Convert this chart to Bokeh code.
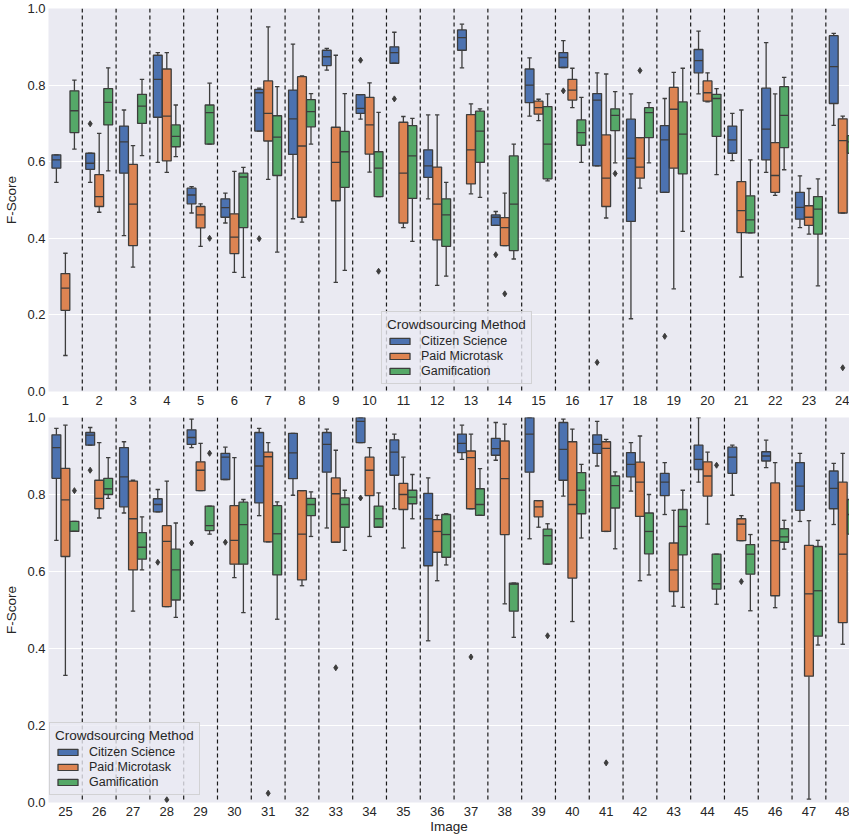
from bokeh.plotting import figure
from bokeh.layouts import column
from bokeh.models import (Range1d, FixedTicker, PrintfTickFormatter, Span,
                          Legend, LegendItem, ColumnDataSource)
from bokeh.embed import file_html
from bokeh.resources import INLINE

images = list(range(1, 49))
methods = ["Citizen Science", "Paid Microtask", "Gamification"]
colors = ["#4C72B0", "#DD8452", "#55A868"]

# Citizen Science: lower whisker, Q1, median, Q3, upper whisker
cs_low = [.546, .546, .407, .598, .466, .440, .680, .451, .839, .711, .857, .503,
          .845, .434, .719, .846, .589, .190, .520, .777, .603, .572, .428, .695,
          .681, .928, .752, .755, .922, .839, .745, .798, .713, .935, .763, .420,
          .891, .889, .685, .796, .874, .809, .748, .832, .798, .870, .730, .722]
cs_q1 = [.583, .580, .570, .716, .490, .455, .680, .619, .851, .726, .857, .559,
         .891, .434, .754, .846, .589, .444, .520, .832, .622, .605, .450, .752,
         .842, .928, .768, .755, .930, .839, .778, .841, .858, .935, .850, .615,
         .909, .902, .858, .837, .907, .846, .797, .865, .855, .887, .759, .763]
cs_med = [.605, .596, .652, .815, .513, .480, .780, .712, .874, .739, .885, .589,
          .924, .455, .800, .872, .761, .609, .657, .864, .657, .685, .481, .848,
          .922, .954, .846, .774, .948, .897, .874, .908, .930, .990, .910, .737,
          .933, .919, .957, .917, .930, .878, .832, .891, .897, .900, .822, .816]
cs_q3 = [.618, .622, .693, .878, .531, .503, .789, .787, .891, .775, .900, .631,
         .944, .461, .842, .885, .778, .711, .694, .893, .693, .792, .520, .929,
         .955, .961, .922, .789, .968, .907, .961, .959, .961, 1.0, .942, .803,
         .957, .946, 1.0, .987, .955, .909, .855, .928, .923, .911, .883, .861]
cs_high = [.618, .622, .735, .885, .535, .518, .792, .907, .896, .775, .938, .722,
           .959, .470, .871, .916, .832, .777, .765, .941, .726, .911, .563, .935,
           .972, .974, .937, .813, .996, .923, .972, .959, .970, 1.0, .957, .843,
           .980, .987, 1.0, .996, .990, .935, .883, 1.0, .928, .941, .907, .881]

# Paid Microtask
pm_low = [.094, .468, .325, .572, .379, .311, .554, .442, .285, .573, .428, .277,
          .516, .381, .707, .741, .453, .531, .268, .756, .299, .512, .411, .466,
          .330, .739, .497, .509, .810, .584, .677, .563, .676, .691, .661, .576,
          .763, .516, .715, .470, .704, .576, .510, .723, .680, .506, .009, .411]
pm_q1 = [.212, .483, .381, .602, .427, .360, .654, .455, .498, .620, .440, .396,
         .542, .381, .724, .761, .483, .557, .583, .758, .415, .520, .434, .466,
         .639, .763, .604, .509, .810, .619, .677, .578, .676, .797, .761, .650,
         .763, .696, .742, .583, .704, .743, .548, .796, .680, .537, .328, .467]
pm_med = [.270, .509, .489, .719, .461, .403, .726, .641, .598, .696, .570, .489,
          .631, .428, .741, .787, .557, .586, .737, .780, .472, .564, .455, .655,
          .786, .790, .737, .678, .863, .681, .898, .697, .802, .863, .800, .704,
          .896, .841, .768, .774, .920, .832, .604, .848, .723, .680, .542, .645]
pm_q3 = [.308, .566, .593, .842, .483, .464, .811, .822, .690, .768, .703, .586,
         .723, .454, .758, .815, .670, .663, .794, .811, .548, .650, .485, .712,
         .868, .837, .835, .719, .885, .771, .910, .810, .843, .897, .829, .735,
         .913, .939, .784, .937, .937, .884, .674, .885, .737, .830, .668, .832]
pm_high = [.361, .674, .642, .885, .490, .575, .952, .824, .878, .806, .718, .722,
           .751, .518, .763, .844, .829, .663, .833, .832, .735, .777, .530, .719,
           .980, .935, .837, .835, .933, .896, .935, .810, .915, .922, .897, .746,
           .957, .983, .784, .970, .943, .952, .759, .910, .745, .883, .732, .907]

# Gamification
gm_low = [.633, .576, .616, .613, .646, .298, .364, .646, .316, .509, .392, .301,
          .507, .346, .550, .598, .597, .597, .418, .566, .414, .579, .276, .580,
          .704, .790, .604, .481, .697, .493, .476, .691, .655, .715, .737, .617,
          .746, .429, .619, .687, .659, .591, .507, .515, .498, .658, .409, .650]
gm_q1 = [.676, .696, .700, .639, .646, .428, .564, .691, .533, .509, .504, .379,
         .598, .368, .555, .643, .681, .663, .568, .666, .414, .637, .411, .622,
         .704, .800, .632, .526, .706, .619, .591, .745, .715, .715, .776, .637,
         .746, .497, .619, .750, .765, .646, .643, .554, .593, .676, .432, .697]
gm_med = [.733, .755, .745, .666, .728, .560, .664, .731, .626, .583, .615, .461,
          .680, .489, .646, .676, .721, .728, .672, .765, .448, .721, .476, .652,
          .704, .815, .663, .604, .719, .722, .698, .774, .774, .737, .793, .696,
          .774, .567, .693, .811, .823, .704, .717, .568, .645, .690, .550, .748]
gm_q3 = [.785, .791, .776, .696, .748, .570, .720, .762, .679, .626, .694, .503,
         .732, .615, .744, .709, .738, .741, .756, .776, .511, .796, .509, .668,
         .730, .842, .701, .658, .770, .780, .771, .790, .791, .770, .811, .748,
         .815, .570, .710, .857, .848, .752, .761, .645, .670, .711, .665, .787]
gm_high = [.813, .845, .815, .748, .805, .585, .796, .778, .778, .729, .713, .546,
           .738, .646, .777, .768, .783, .754, .844, .791, .605, .820, .555, .700,
           .730, .896, .742, .726, .770, .787, .781, .807, .811, .804, .852, .750,
           .867, .570, .724, .878, .859, .800, .811, .645, .696, .733, .681, .830]

# Outliers: image, value
cs_out_img = [2, 7, 10, 11, 14, 16, 17, 19, 26, 28, 29, 30, 34]
cs_out_val = [.699, .399, .865, .764, .357, .785, .076, .144, .863, .624, .674, .676, .791]
pm_out_img = [14, 18, 24, 28, 31, 33, 37, 41, 45]
pm_out_val = [.255, .838, .062, .007, .024, .350, .378, .103, .574]
gm_out_img = [5, 10, 17, 25, 29, 39, 44]
gm_out_val = [.400, .314, .569, .810, .907, .433, .876]

stats = [
    (cs_low, cs_q1, cs_med, cs_q3, cs_high, cs_out_img, cs_out_val),
    (pm_low, pm_q1, pm_med, pm_q3, pm_high, pm_out_img, pm_out_val),
    (gm_low, gm_q1, gm_med, gm_q3, gm_high, gm_out_img, gm_out_val),
]

FONT = "Liberation Sans"
TEXT = "#262626"
GRAY = "#3d3d3d"
N_PER = 24
OFFS = [-0.8 / 3, 0.0, 0.8 / 3]
BW = 0.8 / 3 * 0.98
CW = BW * 0.5


def make_panel(panel, height, top_border, bottom_border, xlabel, legend_loc):
    lo, hi = panel * N_PER + 1, (panel + 1) * N_PER
    p = figure(width=849, height=height, x_range=Range1d(0.5, 24.2),
               y_range=Range1d(0, 1), output_backend="svg", toolbar_location=None,
               min_border_left=48, min_border_right=0, min_border_top=top_border,
               min_border_bottom=bottom_border)
    p.background_fill_color = "#EAEAF2"
    p.border_fill_color = "white"
    p.outline_line_color = None
    p.xgrid.visible = False
    p.ygrid.grid_line_color = "white"
    p.ygrid.grid_line_width = 1.2
    p.ygrid.ticker = FixedTicker(ticks=[0.2, 0.4, 0.6, 0.8])

    for ax in (p.xaxis[0], p.yaxis[0]):
        ax.axis_line_color = None
        ax.major_tick_line_color = None
        ax.minor_tick_line_color = None
        ax.major_tick_out = 0
        ax.major_tick_in = 0
        ax.minor_tick_out = 0
        ax.minor_tick_in = 0
        ax.major_label_text_font = FONT
        ax.major_label_text_font_size = "13px"
        ax.major_label_text_color = TEXT
        ax.axis_label_text_font = FONT
        ax.axis_label_text_font_size = "13.5px"
        ax.axis_label_text_font_style = "normal"
        ax.axis_label_text_color = TEXT
    p.yaxis.ticker = FixedTicker(ticks=[0.0, 0.2, 0.4, 0.6, 0.8, 1.0])
    p.yaxis.formatter = PrintfTickFormatter(format="%.1f")
    p.yaxis.axis_label = "F-Score"
    p.yaxis.major_label_standoff = 3
    p.yaxis.axis_label_standoff = 5
    p.xaxis.ticker = FixedTicker(ticks=list(range(1, N_PER + 1)))
    p.xaxis.major_label_overrides = {i - panel * N_PER: str(i) for i in range(lo, hi + 1)}
    p.xaxis.major_label_standoff = 4
    if xlabel:
        p.xaxis.axis_label = xlabel
        p.xaxis.axis_label_standoff = 0

    box_renderers = []
    for m, (low, q1, med, q3, high, oimg, oval) in enumerate(stats):
        xs, L, Q1, M, Q3, H = [], [], [], [], [], []
        for k, img in enumerate(images):
            if lo <= img <= hi:
                xs.append(img - panel * N_PER + OFFS[m])
                L.append(low[k]); Q1.append(q1[k]); M.append(med[k])
                Q3.append(q3[k]); H.append(high[k])
        src = ColumnDataSource(dict(
            x=xs, low=L, q1=Q1, med=M, q3=Q3, high=H,
            bl=[x - BW / 2 for x in xs], br=[x + BW / 2 for x in xs],
            cl=[x - CW / 2 for x in xs], cr=[x + CW / 2 for x in xs]))
        p.segment(x0="x", y0="q3", x1="x", y1="high", source=src,
                  line_color=GRAY, line_width=1.3)
        p.segment(x0="x", y0="low", x1="x", y1="q1", source=src,
                  line_color=GRAY, line_width=1.3)
        r = p.vbar(x="x", width=BW, bottom="q1", top="q3", source=src,
                   fill_color=colors[m], line_color=GRAY, line_width=1.3)
        box_renderers.append(r)
        p.segment(x0="bl", y0="med", x1="br", y1="med", source=src,
                  line_color=GRAY, line_width=1.3)
        p.segment(x0="cl", y0="high", x1="cr", y1="high", source=src,
                  line_color=GRAY, line_width=1.3)
        p.segment(x0="cl", y0="low", x1="cr", y1="low", source=src,
                  line_color=GRAY, line_width=1.3)
        ox = [i - panel * N_PER + OFFS[m] for i in oimg if lo <= i <= hi]
        oy = [v for i, v in zip(oimg, oval) if lo <= i <= hi]
        if ox:
            p.scatter(ox, oy, marker="diamond", size=6, fill_color=GRAY,
                      line_color=GRAY)

    for b in range(1, N_PER):
        p.add_layout(Span(location=b + 0.5, dimension="height", line_color="#1a1a1a",
                          line_width=1.2, line_dash="4 3"))

    legend = Legend(
        items=[LegendItem(label=methods[m], renderers=[box_renderers[m]]) for m in range(3)],
        location=legend_loc, title="Crowdsourcing Method",
        title_text_font=FONT, title_text_font_size="13.5px", title_text_font_style="normal",
        title_text_color=TEXT, title_standoff=2,
        label_text_font=FONT, label_text_font_size="12.5px", label_text_color=TEXT,
        glyph_width=25, glyph_height=8, label_height=14, label_standoff=9,
        spacing=1, padding=5, margin=0,
        background_fill_color="#EAEAF2", background_fill_alpha=0.8,
        border_line_color="#cccccc", border_line_alpha=0.8)
    p.add_layout(legend, "center")
    return p


p1 = make_panel(0, 410, 8, 19, None, (333, 7))
p2 = make_panel(1, 426, 7, 34, "Image", (1, 7))
layout = column(p1, p2, spacing=0)

open("out.html", "w").write(file_html(layout, INLINE))
